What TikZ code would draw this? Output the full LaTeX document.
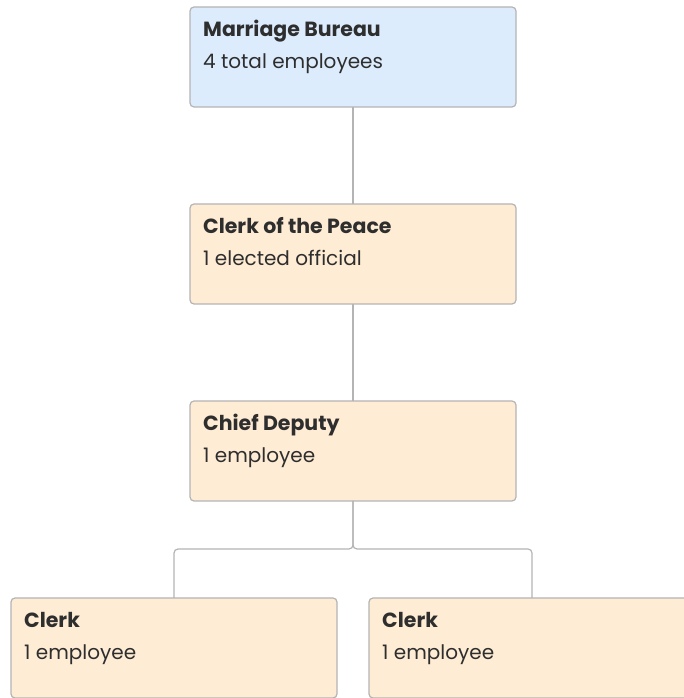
\documentclass[tikz,border=0pt]{standalone}
\usepackage{fontspec}
\setmainfont{Poppins}
\usetikzlibrary{positioning}

\definecolor{boxline}{HTML}{B4B4B4}
\definecolor{topfill}{HTML}{DCECFD}
\definecolor{unitfill}{HTML}{FEECD4}
\definecolor{ink}{HTML}{2E2E2E}

\begin{document}
\begin{tikzpicture}[
    x = 1pt, y = 1pt,
    node distance = 97pt, % gap between levels
    unit/.style = {
        draw = boxline,
        line width = 1.2pt,
        outer sep = 0pt,
        rounded corners = 4pt,
        fill = unitfill,
        minimum width = 326pt,
        minimum height = 100pt,
        inner sep = 0pt
    },
    title/.style = {anchor = base west, inner sep = 0pt, text = ink,
        font = \fontsize{20.5}{23}\selectfont\bfseries},
    sub/.style = {anchor = base west, inner sep = 0pt, text = ink,
        font = \fontsize{20}{23}\selectfont},
    link/.style = {draw = boxline, line width = 1.2pt, rounded corners = 4pt}
    ]
    \useasboundingbox (0,0) rectangle (683,698);

    \node[unit, fill = topfill] (bureau) at (353,641) {};
    \node[unit] (peace) [below=of bureau] {};
    \node[unit] (deputy) [below=of peace] {};
    \node[unit] (clerkA) [below=of deputy, xshift=-179pt] {};
    \node[unit] (clerkB) [below=of deputy, xshift=179pt] {};

    % box texts
    \node[title] (bureauT) at ([shift={(13,-30)}]bureau.north west) {Marriage Bureau};
    \node[sub] (bureauS) at ([shift={(13,-62)}]bureau.north west) {4 total employees};
    \node[title] (peaceT) at ([shift={(13,-30)}]peace.north west) {Clerk of the Peace};
    \node[sub] (peaceS) at ([shift={(13,-62)}]peace.north west) {1 elected official};
    \node[title] (deputyT) at ([shift={(13,-30)}]deputy.north west) {Chief Deputy};
    \node[sub] (deputyS) at ([shift={(13,-62)}]deputy.north west) {1 employee};
    \node[title] (clerkAT) at ([shift={(13,-30)}]clerkA.north west) {Clerk};
    \node[sub] (clerkAS) at ([shift={(13,-62)}]clerkA.north west) {1 employee};
    \node[title] (clerkBT) at ([shift={(13,-30)}]clerkB.north west) {Clerk};
    \node[sub] (clerkBS) at ([shift={(13,-62)}]clerkB.north west) {1 employee};

    % connectors
    \path[link] (bureau) -- (peace);
    \path[link] (peace) -- (deputy);
    \path[link] (deputy.south) -- ++(0,-48) -| (clerkA.north);
    \path[link] (deputy.south) -- ++(0,-48) -| (clerkB.north);
\end{tikzpicture}
\end{document}
